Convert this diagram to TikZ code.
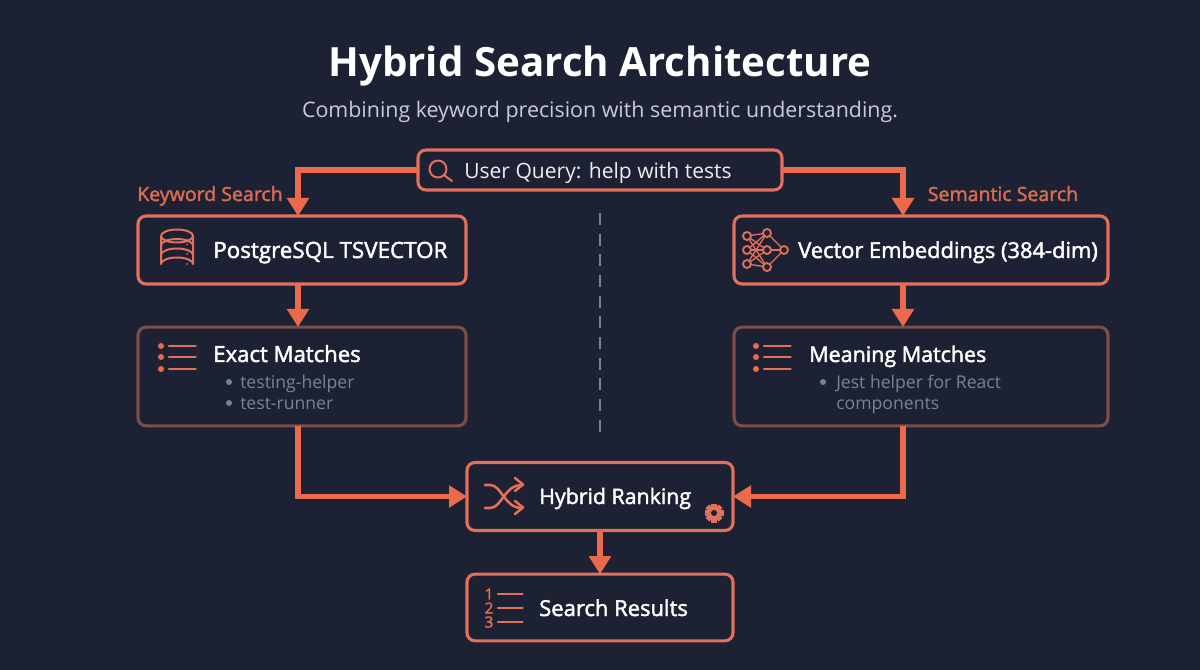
\documentclass[tikz,border=0pt]{standalone}
\usepackage{fontspec}
\setmainfont{Open Sans}
\newfontfamily\semi[FakeBold=2]{Open Sans}
\usetikzlibrary{arrows.meta}
\definecolor{bgc}{HTML}{1C2233}
\definecolor{edgec}{HTML}{E2705A}
\definecolor{dimc}{HTML}{7A4F4C}
\definecolor{arrowc}{HTML}{EC6A4C}
\definecolor{labelc}{HTML}{DB6B52}
\definecolor{grayc}{HTML}{7E828F}
\definecolor{subc}{HTML}{C9CCD3}
\newcommand{\fs}[1]{\fontsize{#1}{#1}\selectfont}
\tikzset{
 x=0.75pt,y=-0.75pt,
 boxa/.style={draw=edgec,line width=2.3pt,rounded corners=6pt,fill=bgc,outer sep=0pt,inner sep=0pt},
 boxb/.style={boxa,draw=dimc},
 flow/.style={draw=arrowc,line width=4.4pt,-{Triangle[length=13.5pt,width=16pt]}},
 ico/.style={draw=edgec,line width=1.5pt,line cap=round,line join=round},
 head/.style={anchor=base west,inner sep=0pt,text=white},
 item/.style={anchor=base west,inner sep=0pt,text=grayc,font=\fs{13.2}},
 side/.style={anchor=base,inner sep=0pt,text=labelc,font=\semi\fs{14.65}},
}
\begin{document}
\begin{tikzpicture}
\useasboundingbox[fill=bgc] (0,0) rectangle (1200,670);
\node[anchor=base,inner sep=0pt,text=white,font=\bfseries\fs{30.2}] (title) at (600,77) {Hybrid Search Architecture};
\node[anchor=base,inner sep=0pt,text=subc,font=\fs{16.05}] (sub) at (600,118) {Combining keyword precision with semantic understanding.};
\draw[draw=grayc,line width=2pt,dash pattern=on 9pt off 6.5pt] (600,213) coordinate (da) -- (600,435) coordinate (db);
% boxes
\node[boxa,minimum width=273pt,minimum height=30pt] (query) at (600,170) {};
\node[boxa,minimum width=246pt,minimum height=51pt] (pg) at (302,250) {};
\node[boxb,minimum width=246pt,minimum height=74pt] (exact) at (302,376.5) {};
\node[boxa,minimum width=280.5pt,minimum height=51pt] (vec) at (921,250) {};
\node[boxb,minimum width=280.5pt,minimum height=74pt] (mean) at (921,376.5) {};
\node[boxa,minimum width=199.5pt,minimum height=51pt] (rank) at (600,496.5) {};
\node[boxa,minimum width=199.5pt,minimum height=50pt] (res) at (600,607.5) {};
% connectors
\coordinate (pgtop) at (298,216);
\coordinate (vectop) at (903,216);
\draw[flow] (query.west) -| (pgtop);
\draw[flow] (query.east) -| (vectop);
\draw[flow] (298,284) coordinate (a1) -- (298,327) coordinate (a2);
\draw[flow] (903,284) coordinate (b1) -- (903,327) coordinate (b2);
\draw[flow] (298,426) coordinate (a3) |- (rank.west);
\draw[flow] (903,426) coordinate (b3) |- (rank.east);
\draw[flow] (rank.south) -- (res.north);
% side labels
\node[side] (kw) at (210,201) {Keyword Search};
\node[side] (sem) at (1003,201) {Semantic Search};
% texts
\node[anchor=base west,inner sep=0pt,text=white!92!bgc,font=\fs{15.8}] (qt) at (464,179) {User Query: help with tests};
\node[head,font=\semi\fs{16.8}] (pgt) at (213,258) {PostgreSQL TSVECTOR};
\node[head,font=\semi\fs{16.6}] (ext) at (213,362) {Exact Matches};
\node[item] (e1) at (240,388) {testing-helper};
\node[item] (e2) at (240,409) {test-runner};
\node[head,font=\semi\fs{16.4}] (vet) at (798,258) {Vector Embeddings (384-dim)};
\node[head,font=\semi\fs{16.1}] (mt) at (809,362) {Meaning Matches};
\node[item] (m1) at (836,388) {Jest helper for React};
\node[item] (m2) at (836,409) {components};
\node[head,font=\semi\fs{16}] (rt) at (539,504) {Hybrid Ranking};
\node[head,font=\semi\fs{16.5}] (st) at (539,616) {Search Results};
\fill[grayc] (229,382) circle (3) (229,403) circle (3) (823,382) circle (3);
% magnifier
\draw[ico] (438,169) circle (8.5) (444.5,175.5) -- (452,181);
% database
\begin{scope}[ico]
\draw (177,236) ellipse (16 and 6.5);
\draw (161,236) -- (161,264) arc[start angle=180,end angle=360,x radius=16,y radius=6.5] -- (193,236);
\draw (161,245.5) arc[start angle=180,end angle=360,x radius=16,y radius=6.5];
\draw (161,255) arc[start angle=180,end angle=360,x radius=16,y radius=6.5];
\end{scope}
\fill[edgec] (187,244.5) circle (1) (187,254) circle (1) (187,264) circle (1);
% bullet list icons
\foreach \dx/\ex in {0/0,595/0}{
 \foreach \yy in {346,357,369}{
  \fill[arrowc] (161+\dx,\yy) circle (3);
  \draw[ico,line width=2pt] (169+\dx,\yy) -- (195.5+\dx,\yy);
 }
}
% neural icon
\foreach \p/\xx/\yy in {a/747/236,b/747/250,c/747/264,d/767/233,e/767/250,f/767/267,g/784/250}{\coordinate (n\p) at (\xx,\yy);}
\foreach \u in {a,b,c}{\foreach \v in {d,e,f}{\draw[ico,line width=1pt] (n\u)--(n\v);}}
\foreach \v in {d,e,f}{\draw[ico,line width=1pt] (n\v)--(ng);}
\foreach \u in {a,b,c,d,e,f,g}{\draw[ico,line width=1.4pt,fill=bgc] (n\u) circle (4);}
% shuffle
\begin{scope}[ico,line width=1.9pt]
\draw (485,485) -- (490,485) .. controls (502,485) and (504,508) .. (522,508);
\draw (485,508) -- (490,508) .. controls (502,508) and (504,485) .. (522,485);
\draw (515,478) -- (523,484.5) -- (515,491);
\draw (515,501) -- (523,507.5) -- (515,514);
\end{scope}
% gear
\begin{scope}[shift={(714,513)}]
\fill[edgec] (0,0) circle (7.2);
\foreach \a in {0,45,...,315}{\fill[edgec,rotate=\a] (-2.6,-9.5) rectangle (2.6,-4);}
\fill[bgc] (0,0) circle (3);
\end{scope}
% ordered list
\foreach \n/\yy in {1/594,2/608,3/622}{
 \node[text=arrowc,font=\semi\fs{11.5},inner sep=0pt] (d\n) at (489,\yy) {\n};
 \draw[ico,line width=2pt] (498,\yy) -- (522.5,\yy);
}
\end{tikzpicture}
\end{document}
